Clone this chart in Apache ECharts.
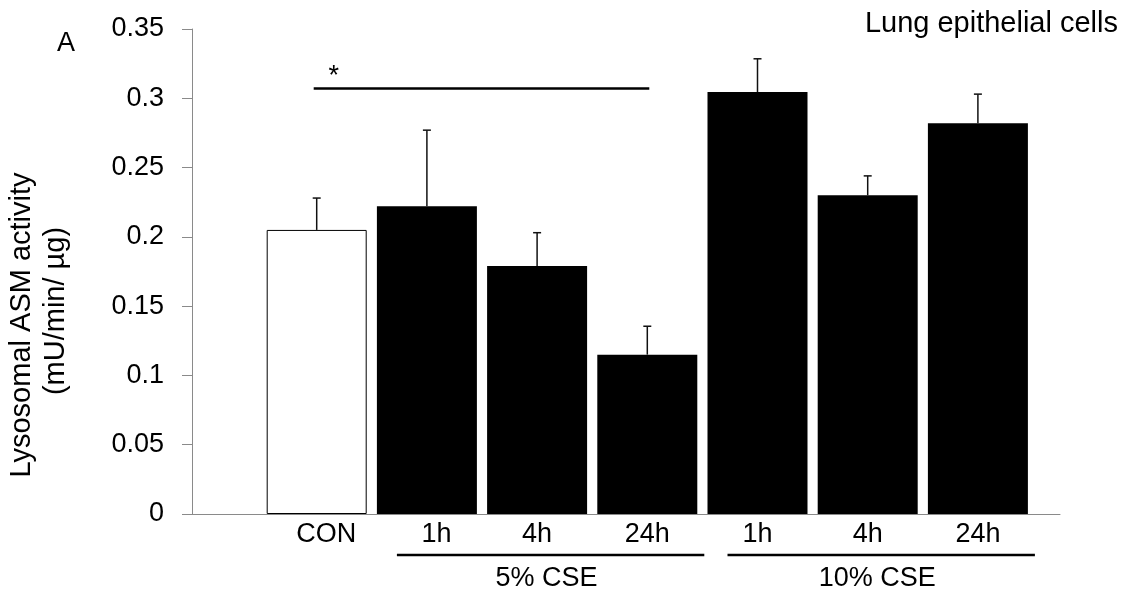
<!DOCTYPE html>
<html style="height: 100%">
<head>
<meta charset="utf-8">
<script src="https://cdn.jsdelivr.net/npm/echarts@6.0.0/dist/echarts.min.js"></script>
</head>
<body style="height: 100%; margin: 0; background: #fff">
<div id="container" style="width: 1128px; height: 603px;"></div>
<script type="text/javascript">
var categories = ['CON', '5% CSE 1h', '5% CSE 4h', '5% CSE 24h', '10% CSE 1h', '10% CSE 4h', '10% CSE 24h'];
var tickLabels = ['CON', '1h', '4h', '24h', '1h', '4h', '24h'];
var means = [0.205, 0.222, 0.179, 0.115, 0.3045, 0.230, 0.282];
var errors = [0.023, 0.055, 0.024, 0.0205, 0.024, 0.014, 0.021];
var yTicks = [0, 0.35, 0.05];
var groupNames = ['5% CSE', '10% CSE'];
var groupStart = [1, 4];
var groupEnd = [3, 6];
var sigFrom = 0, sigTo = 3, sigLevel = 0.307, sigMark = '*';

var font = 'Liberation Sans, Arial, sans-serif';
var dom = document.getElementById('container');
var myChart = echarts.init(dom, null, {renderer: 'canvas'});

var option = {
    animation: false,
    backgroundColor: '#fff',
    grid: [
        {left: 192, right: 68, top: 29, bottom: 89, outerBoundsMode: 'none'},
        {left: 261.6, right: 95, top: 29, bottom: 89, outerBoundsMode: 'none'}
    ],
    xAxis: [
        {
            type: 'value', gridIndex: 0, min: 0, max: 1,
            axisLine: {show: true, lineStyle: {color: '#8a8a8a', width: 1}},
            axisTick: {show: false}, axisLabel: {show: false}, splitLine: {show: false}
        },
        {
            type: 'category', gridIndex: 1,
            // first two labels sit a little right of their bars in the original
            data: categories.map(function (c, i) {
                return i < 2 ? {value: c, textStyle: {padding: [0, 0, 0, 19]}} : c;
            }),
            axisLine: {show: false}, axisTick: {show: false}, splitLine: {show: false},
            axisLabel: {
                interval: 0, margin: 7, color: '#000', fontFamily: font, fontSize: 27,
                formatter: function (v, i) { return tickLabels[i]; }
            }
        }
    ],
    yAxis: [
        {
            type: 'value', gridIndex: 0, min: yTicks[0], max: yTicks[1], interval: yTicks[2],
            axisLine: {show: true, lineStyle: {color: '#8a8a8a', width: 1}},
            axisTick: {show: true, length: 10, lineStyle: {color: '#8a8a8a'}},
            splitLine: {show: false},
            axisLabel: {
                margin: 28, color: '#000', fontFamily: font, fontSize: 27,
                formatter: function (v) { return parseFloat(v.toFixed(2)).toString(); }
            }
        },
        {type: 'value', gridIndex: 1, min: yTicks[0], max: yTicks[1], show: false}
    ],
    graphic: [
        {type: 'text', left: 57, top: 30, style: {text: 'A', fontFamily: font, fontSize: 27, fill: '#000'}},
        {type: 'text', x: 1118, y: 24,
         style: {text: 'Lung epithelial cells', fontFamily: font, fontSize: 29, fill: '#000', align: 'right', verticalAlign: 'middle'}},
        {type: 'text', x: 22, y: 325, rotation: Math.PI / 2,
         style: {text: 'Lysosomal ASM activity', fontFamily: font, fontSize: 29, fill: '#000', align: 'center', verticalAlign: 'middle'}},
        {type: 'text', x: 56, y: 311, rotation: Math.PI / 2,
         style: {text: '(mU/min/ \u00b5g)', fontFamily: font, fontSize: 29, fill: '#000', align: 'center', verticalAlign: 'middle'}}
    ],
    series: [
        {
            type: 'bar', xAxisIndex: 1, yAxisIndex: 1, barWidth: 100,
            itemStyle: {color: '#000'},
            data: means.map(function (v, i) {
                if (i === 0) {
                    return {value: v, itemStyle: {color: '#fff', borderColor: '#000', borderWidth: 1}};
                }
                return v;
            })
        },
        {
            type: 'custom', xAxisIndex: 1, yAxisIndex: 1, clip: false, z: 3,
            data: means.map(function (m, i) { return [i, m, errors[i]]; }),
            renderItem: function (params, api) {
                var i = api.value(0);
                var p0 = api.coord([i, api.value(1)]);
                var p1 = api.coord([i, api.value(1) + api.value(2)]);
                var st = {stroke: '#111', lineWidth: 1.5};
                return {
                    type: 'group',
                    children: [
                        {type: 'line', shape: {x1: p0[0], y1: p0[1], x2: p1[0], y2: p1[1]}, style: st},
                        {type: 'line', shape: {x1: p1[0] - 4, y1: p1[1], x2: p1[0] + 4, y2: p1[1]}, style: st}
                    ]
                };
            }
        },
        {
            type: 'custom', xAxisIndex: 1, yAxisIndex: 1, clip: false,
            data: [[sigFrom, sigTo, sigLevel]],
            renderItem: function (params, api) {
                var a = api.coord([api.value(0), api.value(2)]);
                var b = api.coord([api.value(1), api.value(2)]);
                return {
                    type: 'group',
                    children: [
                        {type: 'line', shape: {x1: a[0] - 3, y1: a[1], x2: b[0] + 2, y2: b[1]}, style: {stroke: '#000', lineWidth: 2.5}},
                        {type: 'text', x: a[0] + 17, y: a[1] + 1,
                         style: {text: sigMark, fontFamily: font, fontSize: 27, fill: '#000', align: 'center', verticalAlign: 'bottom'}}
                    ]
                };
            }
        },
        {
            type: 'custom', xAxisIndex: 1, yAxisIndex: 1, clip: false, silent: true,
            data: groupStart.map(function (s, k) { return [s, groupEnd[k], k]; }),
            renderItem: function (params, api) {
                var a = api.coord([api.value(0), 0]);
                var b = api.coord([api.value(1), 0]);
                var x1 = a[0] - 30, x2 = b[0] + 57, y = a[1] + 41;
                return {
                    type: 'group',
                    children: [
                        {type: 'line', shape: {x1: x1, y1: y, x2: x2, y2: y}, style: {stroke: '#000', lineWidth: 2.5}},
                        {type: 'text', x: (x1 + x2) / 2 - 4, y: y + 24,
                         style: {text: groupNames[api.value(2)], fontFamily: font, fontSize: 27, fill: '#000', align: 'center', verticalAlign: 'middle'}}
                    ]
                };
            }
        }
    ]
};

if (option && typeof option === "object") {
    myChart.setOption(option, true);
}
</script>
</body>
</html>
